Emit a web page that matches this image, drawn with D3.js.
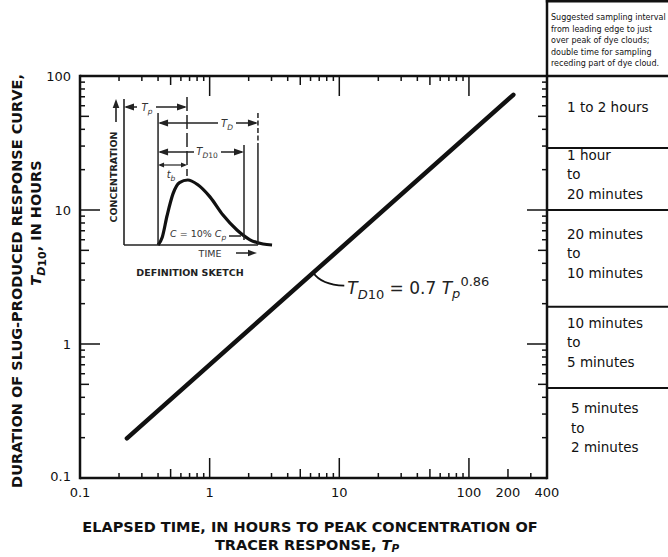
<!DOCTYPE html>
<html><head><meta charset="utf-8">
<script src="https://cdn.jsdelivr.net/npm/d3@7"></script>
<style>
html,body{margin:0;padding:0;background:#fff;}
svg{display:block;font-family:"DejaVu Sans",Verdana,sans-serif;}
</style></head><body>
<svg id="chart" width="668" height="557"></svg>
<script>
// Regression of dye-cloud duration on time to peak: T_D10 = COEF * Tp^EXPONENT
const COEF = 0.7;
const EXPONENT = 0.86;
const tpEnds = [0.23, 220];            // span of Tp covered by the fitted line (hours)
const eqAnchorTp = 6.3;                // where the equation leader touches the line

// axis ticks
const xTickValues = [0.1, 1, 10, 100, 200, 400];
const xTickLabels = ["0.1", "1", "10", "100", "200", "400"];
const yTickValues = [0.1, 1, 10, 100];
const yTickLabels = ["0.1", "1", "10", "100"];

// sampling-interval bands on the right, bounded by T_D10 values (hours)
const bandBounds = [100, 29, 10, 1.9, 0.47, 0.1];
const bandText = [
  ["1 to 2 hours"],
  ["1 hour", "to", "20 minutes"],
  ["20 minutes", "to", "10 minutes"],
  ["10 minutes", "to", "5 minutes"],
  ["5 minutes", "to", "2 minutes"]
];
const noteLines = [
  "Suggested sampling interval",
  "from leading edge to just",
  "over peak of dye clouds;",
  "double time for sampling",
  "receding part of dye cloud."
];

// definition sketch: response curve (time units, fraction of peak concentration)
const sketchT = [2.27, 2.55, 2.87, 3.27, 3.7, 4.25, 4.9, 5.73, 6.6, 7.53, 8.4, 9.27, 9.87];
const sketchC = [0, 0.12, 0.45, 0.79, 0.96, 1.0, 0.93, 0.74, 0.46, 0.23, 0.08, 0.015, 0];
const tLead = 2.27, tPeak = 4.2, tEndD10 = 8.0, tEndD = 8.93;

const ink = "#111";
const svg = d3.select("#chart");

const x = d3.scaleLog().domain([0.1, 400]).range([80, 547]);
const y = d3.scaleLog().domain([0.1, 100]).range([478, 76]);
const X0 = x.range()[0], X1 = x.range()[1], Y0 = y.range()[0], Y1 = y.range()[1];
const RIGHT = 668;

function line(x1, y1, x2, y2, w, dash) {
  const l = svg.append("line").attr("x1", x1).attr("y1", y1).attr("x2", x2).attr("y2", y2)
    .attr("stroke", ink).attr("stroke-width", w);
  if (dash) l.attr("stroke-dasharray", dash);
  return l;
}

// ---- ticks ----
const mults = [1, 2, 3, 4, 5, 6, 7, 8, 9];
const tickLen = m => m === 1 ? 20 : (m === 5 ? 9 : 5);
[0.1, 1, 10].forEach(d => mults.forEach(m => {
  const v = d * m;
  if (v === 0.1) return;
  const L = tickLen(m);
  const px = x(v), py = y(v);
  line(px, Y0, px, Y0 - L, 1.5);   // bottom
  line(px, Y1, px, Y1 + L, 1.5);   // top
  line(X0, py, X0 + L, py, 1.5);   // left
  line(X1, py, X1 - L, py, 1.5);   // right
}));
// 100 to 400 on the Tp axis
line(x(100), Y0, x(100), Y0 - 20, 1.5);
line(x(100), Y1, x(100), Y1 + 20, 1.5);
line(x(200), Y0, x(200), Y0 - 9, 1.5);
line(x(300), Y0, x(300), Y0 - 5, 1.5);

// ---- frame ----
line(X0, Y1, RIGHT, Y1, 2.5);
line(X0, Y1 - 1.2, X0, Y0 + 1.2, 2.5);
line(X0, Y0, X1, Y0, 2.5);
line(X1, 0, X1, Y0 + 1.2, 2.5);
line(X1 - 1.2, 1.2, RIGHT, 1.2, 2.5);
bandBounds.slice(1, -1).forEach(b => line(X1, y(b), RIGHT, y(b), 2));

// ---- tick labels ----
const tickFont = 13;
svg.append("g").selectAll("text").data(xTickValues).join("text")
  .attr("x", d => x(d)).attr("y", 497).attr("text-anchor", "middle")
  .attr("font-size", tickFont).attr("fill", ink)
  .text((d, i) => xTickLabels[i]);
svg.append("g").selectAll("text").data(yTickValues).join("text")
  .attr("x", 71).attr("y", d => d === 0.1 ? y(d) + 3 : y(d) + 4.5).attr("text-anchor", "end")
  .attr("font-size", tickFont).attr("fill", ink)
  .text((d, i) => yTickLabels[i]);

// ---- fitted line ----
const fitPts = tpEnds.map(tp => [tp, COEF * Math.pow(tp, EXPONENT)]);
svg.append("path")
  .attr("d", d3.line().x(d => x(d[0])).y(d => y(d[1]))(fitPts))
  .attr("fill", "none").attr("stroke", ink).attr("stroke-width", 4.5).attr("stroke-linecap", "round");

// equation label with leader
const ax = x(eqAnchorTp), ay = y(COEF * Math.pow(eqAnchorTp, EXPONENT));
svg.append("path")
  .attr("d", `M${ax},${ay} Q${ax + 8},${ay + 12} ${ax + 31},${ay + 13}`)
  .attr("fill", "none").attr("stroke", ink).attr("stroke-width", 1.8);
const eq = svg.append("text").attr("x", ax + 34).attr("y", ay + 21).attr("fill", "#222").attr("font-size", 17);
eq.append("tspan").attr("font-style", "italic").text("T");
eq.append("tspan").attr("font-size", 13).attr("dy", 5).attr("font-style", "italic").text("D");
eq.append("tspan").attr("font-size", 13).text("10");
eq.append("tspan").attr("dy", -5).text(" = " + COEF + " ");
eq.append("tspan").attr("font-style", "italic").text("T");
eq.append("tspan").attr("font-size", 13).attr("dy", 4).attr("font-style", "italic").text("p");
eq.append("tspan").attr("font-size", 13).attr("dy", -12).text(EXPONENT);

// ---- axis titles ----
svg.append("text").attr("transform", "translate(22,281) rotate(-90)")
  .attr("text-anchor", "middle").attr("font-weight", "bold").attr("font-size", 14.5).attr("fill", ink)
  .text("DURATION OF SLUG-PRODUCED RESPONSE CURVE,");
const yl2 = svg.append("text").attr("transform", "translate(41,223) rotate(-90)")
  .attr("text-anchor", "middle").attr("font-weight", "bold").attr("font-size", 14.5).attr("fill", ink);
yl2.append("tspan").attr("font-style", "italic").text("T");
yl2.append("tspan").attr("font-size", 11).attr("dy", 4).attr("font-style", "italic").text("D");
yl2.append("tspan").attr("font-size", 11).attr("dy", 1).text("10");
yl2.append("tspan").attr("dy", -5).text(", IN HOURS");

svg.append("text").attr("x", 310).attr("y", 532).attr("text-anchor", "middle")
  .attr("font-weight", "bold").attr("font-size", 14.5).attr("fill", ink)
  .text("ELAPSED TIME, IN HOURS TO PEAK CONCENTRATION OF");
const xl2 = svg.append("text").attr("x", 307).attr("y", 550).attr("text-anchor", "middle")
  .attr("font-weight", "bold").attr("font-size", 14.5).attr("fill", ink);
xl2.append("tspan").text("TRACER RESPONSE, ");
xl2.append("tspan").attr("font-style", "italic").text("T");
xl2.append("tspan").attr("font-style", "italic").attr("font-size", 10.5).attr("dy", 2).text("P");

// ---- sampling-interval bands ----
const lineH = 19.5;
bandText.forEach((lines, i) => {
  const top = y(bandBounds[i]), bot = y(bandBounds[i + 1]);
  const mid = (top + bot) / 2 - 5;
  const first = mid - (lines.length - 1) * lineH / 2;
  const tx = i === bandText.length - 1 ? 571 : 567;
  lines.forEach((s, j) => {
    svg.append("text").attr("x", tx).attr("y", first + j * lineH + 5)
      .attr("font-size", 13.5).attr("fill", ink).text(s);
  });
});
noteLines.forEach((s, j) => {
  svg.append("text").attr("x", 551).attr("y", 20 + j * 11.5)
    .attr("font-size", 8).attr("fill", ink).text(s);
});

// ---- definition sketch ----
const sk = svg.append("g");
const sx = d3.scaleLinear().domain([0, 10]).range([124, 274]);
const sy = d3.scaleLinear().domain([0, 1]).range([245, 180]);
const sketchInk = "#222";
function sline(x1, y1, x2, y2, w, dash) {
  const l = sk.append("line").attr("x1", x1).attr("y1", y1).attr("x2", x2).attr("y2", y2)
    .attr("stroke", sketchInk).attr("stroke-width", w);
  if (dash) l.attr("stroke-dasharray", dash);
}
function head(xx, yy, dir, len, half) {
  let p;
  if (dir === "l") p = [[xx, yy], [xx + len, yy - half], [xx + len, yy + half]];
  else if (dir === "r") p = [[xx, yy], [xx - len, yy - half], [xx - len, yy + half]];
  else p = [[xx, yy], [xx - half, yy + len], [xx + half, yy + len]];
  sk.append("path").attr("d", "M" + p.join("L") + "Z").attr("fill", sketchInk);
}
function label(xx, yy, main, sub, italicMain, size) {
  const t = sk.append("text").attr("x", xx).attr("y", yy).attr("text-anchor", "middle")
    .attr("font-size", size || 10).attr("fill", "#333");
  t.append("tspan").attr("font-style", italicMain ? "italic" : null).text(main);
  if (sub) t.append("tspan").attr("font-size", 7.5).attr("dy", 3).attr("font-style", "italic").text(sub);
  return t;
}
function dim(yy, xa, xb, gapA, gapB) {
  sline(xa + 2, yy, gapA, yy, 1.5);
  sline(gapB, yy, xb - 2, yy, 1.5);
  head(xa, yy, "l", 10, 3.5);
  head(xb, yy, "r", 10, 3.5);
}
const base = sy(0);
// axes of the sketch
sline(sx(0), 99, sx(0), base, 1.6);
sline(sx(0), base, sx(tEndD), base, 1.6);
// curve
sk.append("path")
  .attr("d", d3.line().x((d, i) => sx(d)).y((d, i) => sy(sketchC[i])).curve(d3.curveMonotoneX)(sketchT))
  .attr("fill", "none").attr("stroke", ink).attr("stroke-width", 3.2);
// boundary lines
sline(sx(tLead), 113, sx(tLead), base, 1.5);
sline(sx(tPeak), 97, sx(tPeak), 176, 1.5, "14,4");
sline(sx(tEndD10), 145, sx(tEndD10), 240, 1.5);
sline(sx(tEndD), 113, sx(tEndD), 143, 1.5, "5,2.5");
sline(sx(tEndD), 143, sx(tEndD), base, 1.5);
// dimension arrows
dim(107, sx(0), sx(tPeak), 137, 156);
label(147, 111, "T", "p", true);
dim(123, sx(tLead), sx(tEndD), 218, 236);
label(227, 127, "T", "D", true);
dim(152, sx(tLead), sx(tEndD10), 194, 221);
const td10 = sk.append("text").attr("x", 207).attr("y", 155).attr("text-anchor", "middle")
  .attr("font-size", 10).attr("fill", "#333");
td10.append("tspan").attr("font-style", "italic").text("T");
td10.append("tspan").attr("font-size", 7.5).attr("dy", 3).attr("font-style", "italic").text("D");
td10.append("tspan").attr("font-size", 7.5).text("10");
sline(sx(tLead) + 2, 165, sx(tPeak) - 2, 165, 1.2);
head(sx(tLead), 165, "l", 6, 2.5);
head(sx(tPeak), 165, "r", 6, 2.5);
label(171, 178, "t", "b", true);
// 10% level
const cl = sk.append("text").attr("x", 170).attr("y", 237).attr("font-size", 9.5).attr("fill", "#333");
cl.append("tspan").attr("font-style", "italic").text("C");
cl.append("tspan").text(" = 10% ");
cl.append("tspan").attr("font-style", "italic").text("C");
cl.append("tspan").attr("font-style", "italic").attr("font-size", 7.5).attr("dy", 3).text("p");
sline(229, 236, sx(tEndD10) - 3, 236, 1.5);
// axis captions
sk.append("text").attr("x", 210).attr("y", 257).attr("text-anchor", "middle")
  .attr("font-size", 9.5).attr("fill", "#333").text("TIME");
sline(236, 253, 250, 253, 1.5);
head(257, 253, "r", 9, 3.2);
sk.append("text").attr("transform", "translate(117,177) rotate(-90)").attr("text-anchor", "middle")
  .attr("font-size", 9.5).attr("font-weight", "bold").attr("fill", "#222").text("CONCENTRATION");
sline(116, 122, 116, 106, 1.6);
head(116, 99, "u", 9, 3.3);
sk.append("text").attr("x", 190).attr("y", 276).attr("text-anchor", "middle")
  .attr("font-size", 9.5).attr("font-weight", "bold").attr("fill", "#222").text("DEFINITION SKETCH");
</script>
</body></html>
